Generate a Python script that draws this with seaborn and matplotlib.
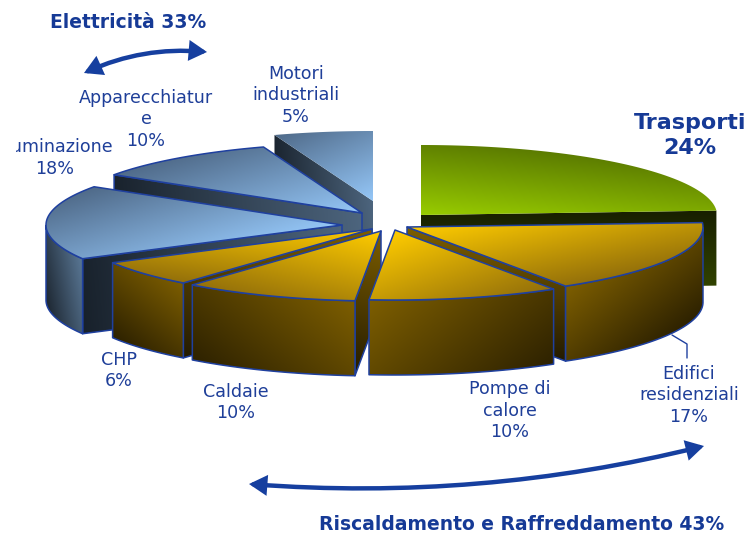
import numpy as np
import matplotlib
matplotlib.use("Agg")
import matplotlib.pyplot as plt
from matplotlib.patches import Polygon, FancyArrowPatch
import seaborn as sns

# shares as labelled, plus the share each slice seems to take up in the drawing
categories = ["Trasporti", "Edifici\nresidenziali", "Pompe di\ncalore", "Caldaie", "CHP",
              "Illuminazione", "Apparecchiatur\ne", "Motori\nindustriali"]
labelled = [24, 17, 10, 10, 6, 18, 10, 5]
drawn = [24, 17, 10.4, 9.6, 6, 17.2, 10.4, 5.4]
groups = ["Elettricità 33%", "Riscaldamento e Raffreddamento 43%"]

# layout, in pixels of the reference
apexes = [(421, 215), (407, 227), (395, 230), (381, 231), (372, 229), (342, 225), (362, 213), (373, 201)]
label_pos = [None, (689, 374), (510, 389), (236, 392), (119, 360), (55, 147), (146, 98), (296, 74)]
RX, RY, DEPTH = 296, 70, 75
EDGE = "#1f409f"
TEXT = "#1f3f99"
BOLD = "#163a96"

gold = dict(top=("#ffcc00", "#94700a"), wall=("#7d5e00", "#2e2200"), cut=("#7d5e00", "#241b00"),
            start_dir=(-0.3, 1), end_dir=(0, 1))
blue = dict(top=("#95c7f8", "#506b8a"), wall=("#5a7896", "#1e2833"), cut=("#4d657e", "#18212b"),
            start_dir=(-1, 0.1), end_dir=(-1, 0.1))
green = dict(top=("#98cc00", "#5c7c00"), wall=("#2e4000", "#1a2200"), cut=("#324400", "#181f00"),
             start_dir=(0, -1), end_dir=(0, -1))
styles = [green, gold, gold, gold, gold, blue, blue, blue]
# direction of the colour ramp on each top face
top_dirs = [(0.1, -1), (0.2, 1), (0.35, 1), (-0.25, 1), (-0.15, 1), (-0.3, -1), (-0.3, -1), (-0.45, -1)]

sns.set_theme(style="white")
fig = plt.figure(figsize=(7.47, 5.33), dpi=100)
ax = fig.add_axes([0, 0, 1, 1])
ax.axis("off")
z = [1]


def shade(pts, colors, direction, edge=True):
    pts = np.asarray(pts)
    cmap = sns.blend_palette(colors, as_cmap=True)
    x0, y0 = pts.min(axis=0)
    x1, y1 = pts.max(axis=0)
    xx, yy = np.meshgrid(np.linspace(x0, x1, 200), np.linspace(y0, y1, 200))
    t = xx * direction[0] + yy * direction[1]
    proj = pts[:, 0] * direction[0] + pts[:, 1] * direction[1]
    t = (t - proj.min()) / (proj.max() - proj.min())
    z[0] += 1
    im = ax.imshow(t, extent=(x0, x1, y1, y0), origin="upper", cmap=cmap, vmin=0, vmax=1,
                   aspect="auto", zorder=z[0], interpolation="bilinear")
    patch = Polygon(pts, closed=True, fill=False, lw=1.1, zorder=z[0],
                    edgecolor=EDGE if edge else "none", joinstyle="round")
    ax.add_patch(patch)
    im.set_clip_path(patch)


def draw_slice(start, end, apex, style, top_dir, edge=True):
    apex = np.array(apex, dtype=float)
    th = np.radians(np.linspace(start, end, 60) * 3.6)
    rim = np.column_stack([apex[0] + RX * np.sin(th), apex[1] - RY * np.cos(th)])
    down = np.array([0, DEPTH])
    # cut faces: only the one turned towards the viewer
    if np.sin(th[0]) < -1e-6:
        shade([apex, rim[0], rim[0] + down, apex + down], style["cut"], style["start_dir"], edge)
    if np.sin(th[-1]) > 1e-6:
        shade([apex, rim[-1], rim[-1] + down, apex + down], style["cut"], style["end_dir"], edge)
    front = np.cos(th) < 0
    if front.any():
        arc = rim[front]
        wall = np.vstack([arc, (arc + down)[::-1]])
        if start * 3.6 > 230:
            d = (-1, 0.2)
        elif arc[:, 0].mean() > apex[0] - 100:
            d = (0.8, 1)
        else:
            d = (-0.8, 1)
        shade(wall, style["wall"], d, edge)
    shade(np.vstack([apex, rim]), style["top"], top_dir, edge)


bounds = np.concatenate([[0], np.cumsum(drawn)])
# painter's order, back to front
for i in [7, 0, 6, 5, 4, 3, 1, 2]:
    draw_slice(bounds[i], bounds[i + 1], apexes[i], styles[i], top_dirs[i], edge=i not in (0, 7))

# labels
for i, pos in enumerate(label_pos):
    if pos is None:
        continue
    lines = categories[i].split("\n") + [f"{labelled[i]}%"]
    for k, line in enumerate(lines):
        t = ax.text(pos[0], pos[1] + k * 21.5, line, ha="center", va="center", fontsize=12.6,
                    color=TEXT, family="DejaVu Sans", zorder=100)
        if categories[i] == "Illuminazione" and k == 0:
            # the reference cuts this word off on its left
            t.set_clip_on(True)
            t.set_clip_box(matplotlib.transforms.Bbox([[16, 0], [747, 533]]))

ax.plot([672, 687, 687], [335, 344, 358], color=EDGE, lw=1, zorder=50)

ax.text(128, 22, groups[0], ha="center", va="center", fontsize=13.5, fontweight="bold", color=BOLD, zorder=100)
ax.text(522, 524, groups[1], ha="center", va="center", fontsize=13.5, fontweight="bold", color=BOLD, zorder=100)
ax.text(690, 123, "Trasporti", ha="center", va="center", fontsize=16, fontweight="bold", color=BOLD, zorder=100)
ax.text(690, 148, f"{labelled[0]}%", ha="center", va="center", fontsize=16, fontweight="bold", color=BOLD, zorder=100)

# curved arrows
for a, b, rad in [((84, 73), (207, 52), -0.13), ((249, 484), (704, 446), 0.08)]:
    ax.add_patch(FancyArrowPatch(a, b, connectionstyle=f"arc3,rad={rad}",
                                 arrowstyle="<|-|>,head_length=0.42,head_width=0.24", mutation_scale=20,
                                 lw=3.2, color="#163f9f", shrinkA=0, shrinkB=0, zorder=60, joinstyle="miter"))

ax.set_xlim(0, 747)
ax.set_ylim(533, 0)
fig.savefig("out.png", dpi=100)
